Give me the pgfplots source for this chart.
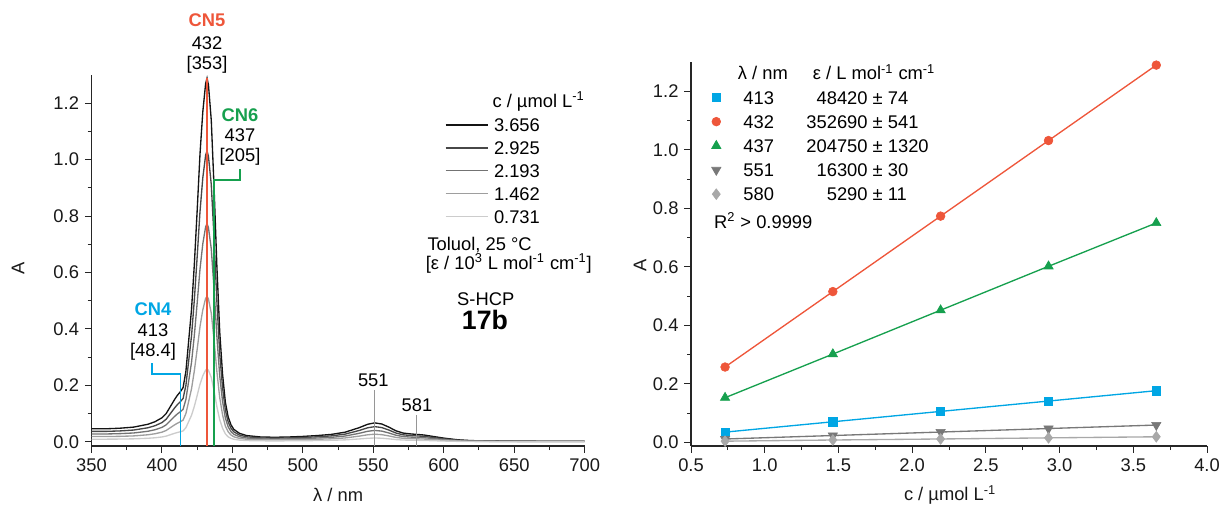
\documentclass[border=0pt]{standalone}
\usepackage{pgfplots}
\pgfplotsset{compat=1.18}
\usepackage{pgfplotstable}
\usepackage{fontspec}
\setmainfont{Liberation Sans}
\definecolor{cnblue}{RGB}{0,166,228}
\definecolor{cnred}{RGB}{238,86,58}
\definecolor{cngreen}{RGB}{22,160,78}
\definecolor{dgray}{RGB}{120,120,120}
\definecolor{lgray}{RGB}{168,168,168}
\definecolor{agray}{RGB}{150,150,150}
\newcommand{\fs}{\fontsize{11}{13}\selectfont}

\pgfplotstableread{
lam a b c d e
350 0.046 0.0368 0.0276 0.0184 0.0092
360 0.046 0.0368 0.0276 0.0184 0.0092
370 0.048 0.0384 0.0288 0.0192 0.0096
380 0.052 0.0416 0.0312 0.0208 0.0104
390 0.062 0.0496 0.0372 0.0248 0.0124
395 0.071 0.0568 0.0426 0.0284 0.0142
400 0.085 0.068 0.051 0.034 0.017
403 0.100 0.080 0.060 0.040 0.020
406 0.125 0.100 0.075 0.050 0.025
409 0.150 0.120 0.090 0.060 0.030
411 0.165 0.132 0.099 0.066 0.033
413 0.177 0.1416 0.1062 0.0708 0.0354
415 0.192 0.1536 0.1152 0.0768 0.0384
417 0.250 0.200 0.150 0.100 0.050
419 0.360 0.288 0.216 0.144 0.072
421 0.470 0.376 0.282 0.188 0.094
423 0.630 0.504 0.378 0.252 0.126
425 0.820 0.656 0.492 0.328 0.164
427 1.020 0.816 0.612 0.408 0.204
429 1.170 0.936 0.702 0.468 0.234
431 1.270 1.016 0.762 0.508 0.254
432 1.289 1.031 0.773 0.516 0.258
433 1.265 1.012 0.759 0.506 0.253
435 1.140 0.912 0.684 0.456 0.228
437 0.900 0.720 0.540 0.360 0.180
439 0.620 0.496 0.372 0.248 0.124
441 0.390 0.312 0.234 0.156 0.078
443 0.240 0.192 0.144 0.096 0.048
445 0.140 0.112 0.084 0.056 0.028
447 0.088 0.0704 0.0528 0.0352 0.0176
449 0.060 0.048 0.036 0.024 0.012
451 0.044 0.0352 0.0264 0.0176 0.0088
455 0.030 0.024 0.018 0.012 0.006
460 0.022 0.0176 0.0132 0.0088 0.0044
470 0.017 0.0136 0.0102 0.0068 0.0034
480 0.016 0.0128 0.0096 0.0064 0.0032
490 0.017 0.0136 0.0102 0.0068 0.0034
500 0.019 0.0152 0.0114 0.0076 0.0038
510 0.022 0.0176 0.0132 0.0088 0.0044
520 0.026 0.0208 0.0156 0.0104 0.0052
530 0.034 0.0272 0.0204 0.0136 0.0068
540 0.050 0.040 0.030 0.020 0.010
546 0.062 0.0496 0.0372 0.0248 0.0124
551 0.067 0.0536 0.0402 0.0268 0.0134
556 0.063 0.0504 0.0378 0.0252 0.0126
561 0.052 0.0416 0.0312 0.0208 0.0104
566 0.039 0.0312 0.0234 0.0156 0.0078
571 0.031 0.0248 0.0186 0.0124 0.0062
576 0.028 0.0224 0.0168 0.0112 0.0056
581 0.026 0.0208 0.0156 0.0104 0.0052
586 0.024 0.0192 0.0144 0.0096 0.0048
591 0.020 0.016 0.012 0.008 0.004
600 0.013 0.0104 0.0078 0.0052 0.0026
610 0.007 0.0056 0.0042 0.0028 0.0014
620 0.004 0.0032 0.0024 0.0016 0.0008
640 0.003 0.0024 0.0018 0.0012 0.0006
670 0.002 0.0016 0.0012 0.0008 0.0004
700 0.002 0.0016 0.0012 0.0008 0.0004
}\spectra

\pgfplotstableread{
c A413 A432 A437 A551 A580
0.731 0.0354 0.2578 0.1530 0.0119 0.0045
1.462 0.0708 0.5156 0.3020 0.0238 0.0085
2.193 0.1062 0.7734 0.4520 0.0357 0.0120
2.925 0.1416 1.0316 0.6020 0.0477 0.0158
3.656 0.1770 1.2894 0.7500 0.0596 0.0195
}\linfit

\pgfplotsset{
  common/.style={
    scale only axis, clip=false,
    axis x line=bottom, axis y line=left, axis line style={-, line width=0.7pt, black!85},
    tick align=outside, major tick length=4pt, minor tick length=2.4pt,
    tick style={black!85, line width=0.6pt},
    tick label style={font=\fs, black!90},
    label style={font=\fs, black!90},
    /pgf/number format/assume math mode=true,
    scaled ticks=false,
  }
}

\begin{document}
\begin{tikzpicture}[font=\fs]
\path[use as bounding box] (0,0) rectangle (732.6pt,306pt);

% ---------------- left: spectra ----------------
\begin{axis}[common,
  at={(54.9pt,38.4pt)}, anchor=south west,
  width=295.9pt, height=222.6pt,
  xmin=350, xmax=700, ymin=-0.015, ymax=1.3,
  xtick={350,400,...,700}, minor x tick num=1,
  ytick={0,0.2,...,1.2}, minor y tick num=1,
  yticklabel style={/pgf/number format/.cd, fixed, fixed zerofill, precision=1},
  xlabel={λ / nm}, ylabel={A},
  xlabel style={at={(axis description cs:0.5,-0.132)}, anchor=center},
  ylabel style={at={(axis description cs:-0.149,0.48)}, anchor=center, rotate=0},
  legend style={at={(axis description cs:0.7168,0.8961)}, anchor=north west,
    draw=none, fill=none, inner sep=0pt, outer sep=0pt, row sep=0pt, column sep=0pt,
    nodes={inner sep=0pt, text height=10.81pt, text depth=2.93pt, font=\fs}},
  legend cell align=left,
  legend image code/.code={\draw[#1] (0pt,0pt) -- (25.4pt,0pt); \path (28.6pt,0pt);},
]
\addplot[black!92, line width=0.8pt] table[x=lam,y=a] {\spectra};
\addlegendentry{3.656}
\addplot[black!72, line width=0.8pt] table[x=lam,y=b] {\spectra};
\addlegendentry{2.925}
\addplot[black!55, line width=0.8pt] table[x=lam,y=c] {\spectra};
\addlegendentry{2.193}
\addplot[black!38, line width=0.8pt] table[x=lam,y=d] {\spectra};
\addlegendentry{1.462}
\addplot[black!20, line width=0.8pt] table[x=lam,y=e] {\spectra};
\addlegendentry{0.731}

% annotation lines
\draw[agray, line width=0.6pt] (axis cs:551,-0.015) -- (axis cs:551,0.1835);
\draw[agray, line width=0.6pt] (axis cs:581,-0.015) -- (axis cs:581,0.095);
\draw[cnblue, line width=0.9pt] (axis cs:413,-0.015) |- (axis cs:393.1,0.240) -- (axis cs:393.1,0.279);
\draw[cngreen, line width=0.9pt] (axis cs:437,-0.015) |- (axis cs:455.5,0.928) -- (axis cs:455.5,0.967);
\draw[cnred, line width=0.9pt] (axis cs:432,-0.015) -- (axis cs:432,1.29);

% labels
\node[text=cnred, font=\fs\bfseries] at (axis cs:432,1.495) {CN5};
\node at (axis cs:432,1.413) {432};
\node at (axis cs:432,1.335) {[353]};
\node[text=cngreen, font=\fs\bfseries] at (axis cs:455.4,1.158) {CN6};
\node at (axis cs:455.4,1.087) {437};
\node at (axis cs:455.4,1.010) {[205]};
\node[text=cnblue, font=\fs\bfseries] at (axis cs:393.6,0.471) {CN4};
\node at (axis cs:393.6,0.394) {413};
\node at (axis cs:393.6,0.318) {[48.4]};
\node at (axis cs:550,0.219) {551};
\node at (axis cs:581,0.130) {581};

\node at (axis cs:667.3,1.2054) {c / µmol L\textsuperscript{-1}};
\node[anchor=west] at (axis cs:584.3,0.6974) {Toluol, 25 °C};
\node[anchor=west] at (axis cs:583.1,0.6326) {[ε / 10\textsuperscript{3} L mol\textsuperscript{-1} cm\textsuperscript{-1}]};
\node at (axis cs:629.8,0.5043) {S-HCP};
\node[font=\fontsize{16}{18}\selectfont\bfseries] at (axis cs:629.2,0.432) {17b};
\end{axis}

% ---------------- right: linear fits ----------------
\begin{axis}[common,
  at={(414.6pt,38.4pt)}, anchor=south west,
  width=309.6pt, height=230.4pt,
  xmin=0.5, xmax=4.0, ymin=-0.012, ymax=1.3,
  xtick={0.5,1.0,...,4.0}, minor x tick num=1,
  ytick={0,0.2,...,1.2}, minor y tick num=1,
  xticklabel style={/pgf/number format/.cd, fixed, fixed zerofill, precision=1},
  yticklabel style={/pgf/number format/.cd, fixed, fixed zerofill, precision=1},
  xlabel={c / µmol L\textsuperscript{-1}}, ylabel={A},
  xlabel style={at={(axis description cs:0.502,-0.128)}, anchor=center},
  ylabel style={at={(axis description cs:-0.0988,0.471)}, anchor=center, rotate=0},
  legend style={at={(axis description cs:0.0209,1.002)}, anchor=north west,
    draw=none, fill=none, inner sep=0pt, outer sep=0pt, row sep=0pt, column sep=0pt,
    nodes={inner sep=0pt, text height=11.19pt, text depth=3.31pt, font=\fs}},
  legend cell align=left,
  legend image code/.code={\path (0pt,0pt) (17pt,0pt); \draw[#1] plot coordinates {(8.5pt,0pt)};},
]
\addlegendimage{empty legend}
\addlegendentry{\makebox[33.5pt][c]{\hspace{5pt}λ / nm}\makebox[100.9pt][c]{\hspace{4pt}ε / L mol\textsuperscript{-1} cm\textsuperscript{-1}}}

\addplot[cnblue, line width=0.8pt, forget plot] table[x=c,y=A413] {\linfit};
\addplot[cnred, line width=0.8pt, forget plot] table[x=c,y=A432] {\linfit};
\addplot[cngreen, line width=0.8pt, forget plot] table[x=c,y=A437] {\linfit};
\addplot[dgray, line width=0.8pt, forget plot] table[x=c,y=A551] {\linfit};
\addplot[lgray, line width=0.8pt, forget plot] table[x=c,y=A580] {\linfit};

\addplot[only marks, mark=square*, mark size=2.5pt, color=cnblue] table[x=c,y=A413] {\linfit};
\addlegendentry{\makebox[33.5pt][c]{413}\makebox[57.7pt][r]{48420 ±}~74}
\addplot[only marks, mark=*, mark size=2.6pt, color=cnred] table[x=c,y=A432] {\linfit};
\addlegendentry{\makebox[33.5pt][c]{432}\makebox[57.7pt][r]{352690 ±}~541}
\addplot[only marks, mark=triangle*, mark size=3.2pt, color=cngreen] table[x=c,y=A437] {\linfit};
\addlegendentry{\makebox[33.5pt][c]{437}\makebox[57.7pt][r]{204750 ±}~1320}
\addplot[only marks, mark=triangle*, mark options={rotate=180}, mark size=3.2pt, color=dgray] table[x=c,y=A551] {\linfit};
\addlegendentry{\makebox[33.5pt][c]{551}\makebox[57.7pt][r]{16300 ±}~30}
\addplot[only marks, mark=diamond*, mark size=3.2pt, color=lgray] table[x=c,y=A580] {\linfit};
\addlegendentry{\makebox[33.5pt][c]{580}\makebox[57.7pt][r]{5290 ±}~11}

\node[anchor=west] at (axis description cs:0.0335,0.5867) {R\textsuperscript{2} > 0.9999};
\end{axis}
\end{tikzpicture}
\end{document}
